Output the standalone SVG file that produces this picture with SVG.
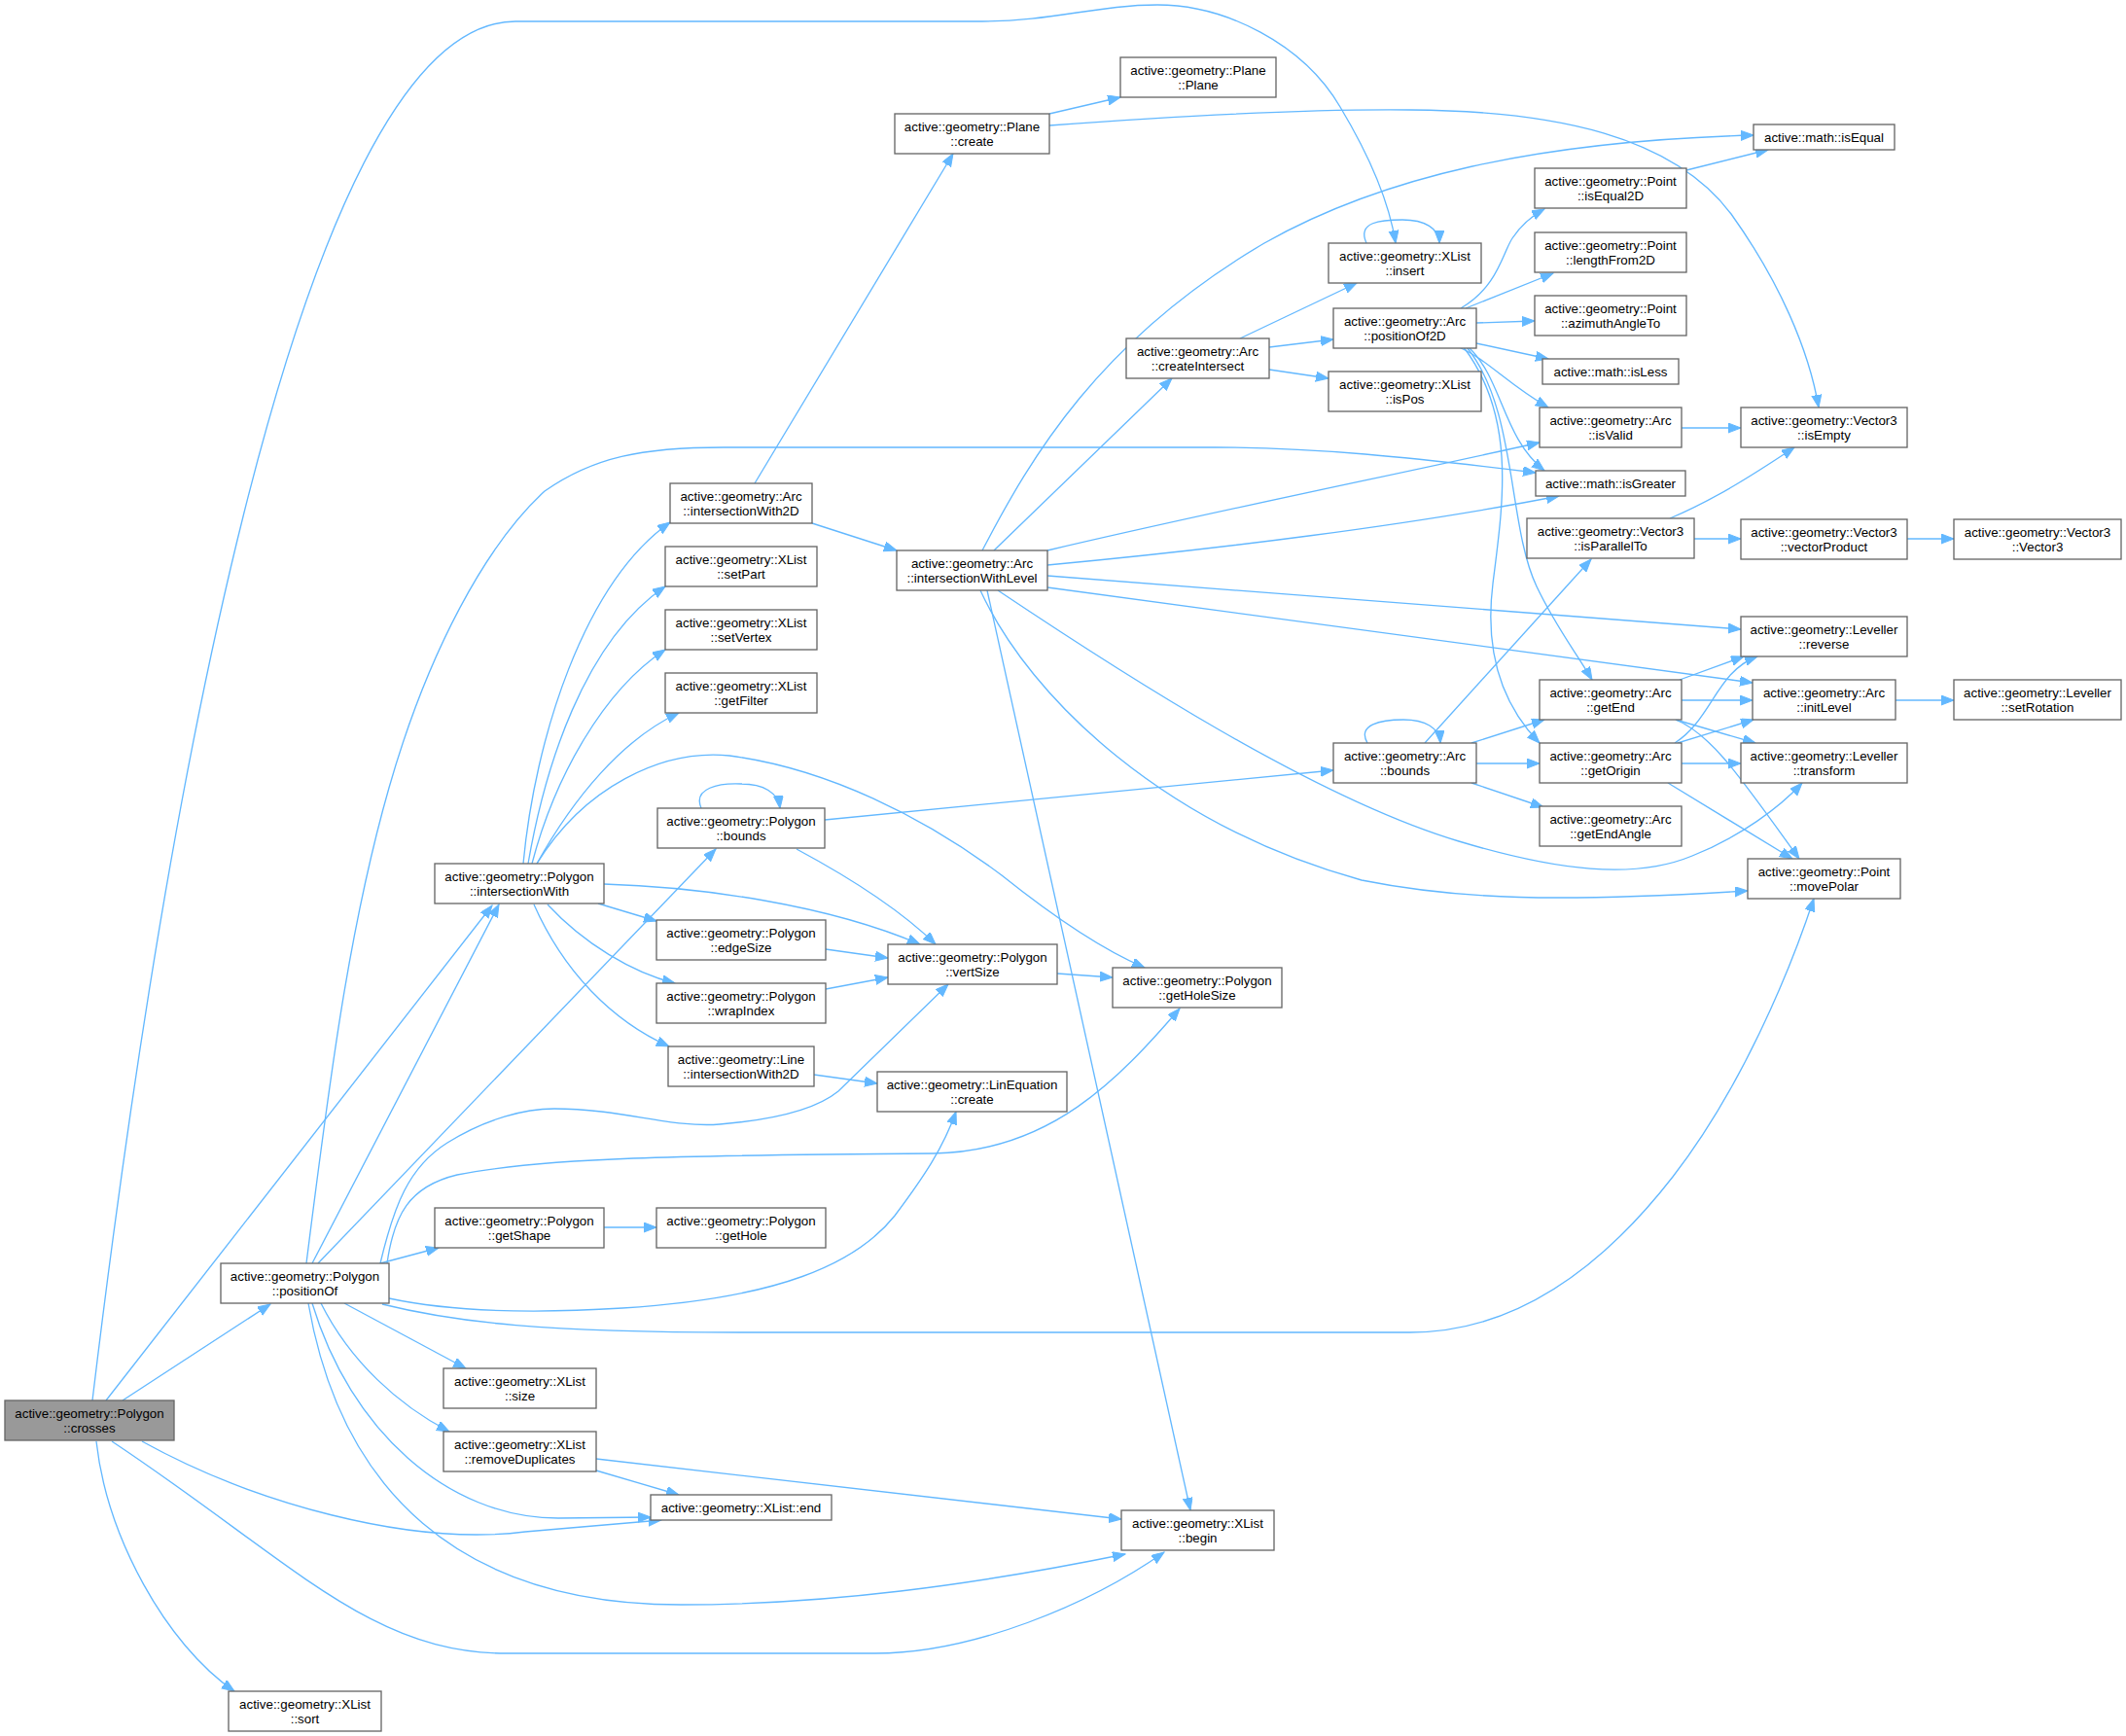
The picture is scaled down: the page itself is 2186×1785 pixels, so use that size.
<svg xmlns="http://www.w3.org/2000/svg" width="2186" height="1785" viewBox="0 0 2186 1785">
<style>
.nd rect{fill:#ffffff;stroke:#666666;stroke-width:1.33}
.root rect{fill:#999999;stroke:#666666;stroke-width:1.33}
text{font-family:"Liberation Sans",Arial,Helvetica,sans-serif;font-size:13.33px;text-anchor:middle;fill:#000000}
.edges path{fill:none;stroke:#63b8ff;stroke-width:1.33;marker-end:url(#ah)}
</style>
<defs>
<marker id="ah" markerUnits="userSpaceOnUse" markerWidth="14" markerHeight="11" refX="13" refY="5" orient="auto">
<path d="M0,0 L13,5 L0,10 z" fill="#63b8ff" stroke="#63b8ff" stroke-width="1"/>
</marker>
</defs>
<rect x="0" y="0" width="2186" height="1785" fill="#ffffff"/>
<g class="edges" id="edges">
<path d="M95,1440 C160,900 300,22 530,22 L1010,22 C1080,22 1130,5 1190,5 C1260,5 1340,45 1378,110 C1405,155 1428,205 1435,250"/>
<path d="M109,1440 L506,931"/>
<path d="M126,1440 L278,1341"/>
<path d="M146,1482 C260,1545 420,1590 540,1575 L680,1563"/>
<path d="M115,1482 C300,1605 380,1700 520,1700 L900,1700 C1000,1700 1120,1650 1197,1596"/>
<path d="M99,1482 C110,1580 170,1690 241,1739"/>
<path d="M354,1340 L479,1407"/>
<path d="M330,1340 C360,1400 410,1445 462,1472"/>
<path d="M321,1340 C360,1470 460,1561 574,1561 L669,1560"/>
<path d="M317,1340 C350,1530 470,1650 700,1650 C850,1650 1000,1630 1157,1598"/>
<path d="M613,1500 L1153,1562"/>
<path d="M613,1512 L698,1537"/>
<path d="M391,1299 L451,1283"/>
<path d="M621,1262 L675,1262"/>
<path d="M391,1299 C405,1240 420,1200 460,1175 C500,1150 540,1140 570,1140 C640,1140 690,1160 740,1156 C800,1151 840,1140 862,1122 L975,1012"/>
<path d="M398,1299 C405,1250 420,1220 470,1208 C560,1190 700,1188 960,1186 C1080,1184 1150,1110 1213,1037"/>
<path d="M400,1335 C470,1350 560,1350 640,1345 C800,1335 880,1300 920,1250 C950,1210 970,1180 983,1143"/>
<path d="M393,1341 C470,1360 560,1370 760,1370 L1450,1370 C1560,1370 1650,1300 1720,1210 C1790,1120 1840,1000 1865,924"/>
<path d="M315,1299 C340,1100 360,950 400,810 C440,670 500,560 560,505 C610,470 660,460 744,460 L1250,460 C1350,460 1450,470 1579,486"/>
<path d="M321,1299 L513,930"/>
<path d="M327,1299 L736,873"/>
<path d="M538,888 C550,760 600,600 689,537"/>
<path d="M543,888 C560,790 600,660 684,603"/>
<path d="M547,888 C570,800 620,710 684,668"/>
<path d="M552,888 C590,820 640,760 698,733"/>
<path d="M552,888 C600,810 680,770 750,777 C850,790 950,840 1030,900 C1080,940 1130,975 1177,995"/>
<path d="M621,909 C720,912 850,930 946,971"/>
<path d="M615,929 L675,947"/>
<path d="M563,930 C600,970 650,1000 694,1011"/>
<path d="M549,930 C580,1000 630,1050 688,1076"/>
<path d="M721,831 C712,810 740,805 762,806 C785,806 800,815 802,831"/>
<path d="M848,843 L1371,792"/>
<path d="M819,873 C860,895 920,930 962,971"/>
<path d="M849,976 L913,985"/>
<path d="M849,1017 L913,1005"/>
<path d="M1087,1001 L1144,1005"/>
<path d="M837,1105 L902,1114"/>
<path d="M776,497 L980,158"/>
<path d="M835,538 L922,566"/>
<path d="M1079,117 L1152,100"/>
<path d="M1079,129 C1200,120 1350,112 1450,113 C1600,114 1720,140 1780,220 C1830,290 1860,360 1870,419"/>
<path d="M1010,566 C1060,470 1130,350 1300,250 C1420,182 1580,145 1803,139"/>
<path d="M1022,566 L1205,389"/>
<path d="M1077,566 C1250,525 1450,485 1583,455"/>
<path d="M1077,581 C1250,565 1450,540 1603,510"/>
<path d="M1077,592 L1790,647"/>
<path d="M1077,604 L1802,702"/>
<path d="M1026,607 C1150,690 1350,820 1500,865 C1600,895 1680,905 1740,880 C1790,860 1830,830 1853,805"/>
<path d="M1008,607 C1060,720 1200,850 1400,905 C1500,925 1600,928 1797,916"/>
<path d="M1015,607 L1224,1553"/>
<path d="M1275,348 L1395,291"/>
<path d="M1305,357 L1371,349"/>
<path d="M1305,380 L1366,389"/>
<path d="M1405,250 C1395,228 1420,226 1442,226 C1465,226 1480,235 1480,250"/>
<path d="M1502,317 C1540,295 1545,260 1555,245 C1565,230 1575,222 1588,215"/>
<path d="M1507,317 L1597,281"/>
<path d="M1518,332 L1578,330"/>
<path d="M1518,353 L1592,369"/>
<path d="M1500,357 C1530,370 1550,395 1592,419"/>
<path d="M1510,357 C1545,390 1545,450 1588,484"/>
<path d="M1508,357 C1560,420 1550,540 1580,603 C1600,645 1620,670 1637,699"/>
<path d="M1505,357 C1560,430 1545,520 1535,600 C1525,680 1550,730 1583,764"/>
<path d="M1734,175 L1818,154"/>
<path d="M1729,440 L1790,440"/>
<path d="M1742,554 L1790,554"/>
<path d="M1717,533 C1760,515 1800,490 1845,460"/>
<path d="M1961,554 L2009,554"/>
<path d="M1406,764 C1395,745 1420,740 1443,740 C1465,740 1480,748 1481,764"/>
<path d="M1465,764 L1636,575"/>
<path d="M1513,764 L1588,740"/>
<path d="M1518,785 L1583,785"/>
<path d="M1513,805 L1587,830"/>
<path d="M1727,699 L1793,675"/>
<path d="M1729,720 L1802,720"/>
<path d="M1723,740 L1805,764"/>
<path d="M1723,740 C1760,755 1790,800 1850,883"/>
<path d="M1722,764 C1760,740 1765,690 1807,675"/>
<path d="M1725,764 L1803,740"/>
<path d="M1729,785 L1790,785"/>
<path d="M1715,805 L1843,883"/>
<path d="M1949,720 L2009,720"/>
</g>
<g id="n_crosses" class="root"><rect x="5" y="1440" width="174" height="41"/><text><tspan x="92" y="1458">active::geometry::Polygon</tspan><tspan x="92" y="1473">::crosses</tspan></text></g>
<g id="n_positionOf" class="nd"><rect x="227" y="1299" width="173" height="41"/><text><tspan x="313.5" y="1317">active::geometry::Polygon</tspan><tspan x="313.5" y="1332">::positionOf</tspan></text></g>
<g id="n_sort" class="nd"><rect x="235" y="1739" width="157" height="41"/><text><tspan x="313.5" y="1757">active::geometry::XList</tspan><tspan x="313.5" y="1772">::sort</tspan></text></g>
<g id="n_size" class="nd"><rect x="456" y="1407" width="157" height="41"/><text><tspan x="534.5" y="1425">active::geometry::XList</tspan><tspan x="534.5" y="1440">::size</tspan></text></g>
<g id="n_removeDuplicates" class="nd"><rect x="456" y="1472" width="157" height="41"/><text><tspan x="534.5" y="1490">active::geometry::XList</tspan><tspan x="534.5" y="1505">::removeDuplicates</tspan></text></g>
<g id="n_end" class="nd"><rect x="669" y="1537" width="186" height="26"/><text><tspan x="762" y="1555">active::geometry::XList::end</tspan></text></g>
<g id="n_intersectionWith" class="nd"><rect x="447" y="888" width="174" height="41"/><text><tspan x="534" y="906">active::geometry::Polygon</tspan><tspan x="534" y="921">::intersectionWith</tspan></text></g>
<g id="n_arcIntersectionWith2D" class="nd"><rect x="689" y="497" width="146" height="41"/><text><tspan x="762" y="515">active::geometry::Arc</tspan><tspan x="762" y="530">::intersectionWith2D</tspan></text></g>
<g id="n_setPart" class="nd"><rect x="684" y="562" width="156" height="41"/><text><tspan x="762" y="580">active::geometry::XList</tspan><tspan x="762" y="595">::setPart</tspan></text></g>
<g id="n_setVertex" class="nd"><rect x="684" y="627" width="156" height="41"/><text><tspan x="762" y="645">active::geometry::XList</tspan><tspan x="762" y="660">::setVertex</tspan></text></g>
<g id="n_getFilter" class="nd"><rect x="684" y="692" width="156" height="41"/><text><tspan x="762" y="710">active::geometry::XList</tspan><tspan x="762" y="725">::getFilter</tspan></text></g>
<g id="n_polygonBounds" class="nd"><rect x="676" y="831" width="172" height="41"/><text><tspan x="762" y="849">active::geometry::Polygon</tspan><tspan x="762" y="864">::bounds</tspan></text></g>
<g id="n_intersectionWithLevel" class="nd"><rect x="922" y="566" width="155" height="41"/><text><tspan x="999.5" y="584">active::geometry::Arc</tspan><tspan x="999.5" y="599">::intersectionWithLevel</tspan></text></g>
<g id="n_edgeSize" class="nd"><rect x="675" y="946" width="174" height="41"/><text><tspan x="762" y="964">active::geometry::Polygon</tspan><tspan x="762" y="979">::edgeSize</tspan></text></g>
<g id="n_wrapIndex" class="nd"><rect x="675" y="1011" width="174" height="41"/><text><tspan x="762" y="1029">active::geometry::Polygon</tspan><tspan x="762" y="1044">::wrapIndex</tspan></text></g>
<g id="n_lineIntersectionWith2D" class="nd"><rect x="687" y="1076" width="150" height="41"/><text><tspan x="762" y="1094">active::geometry::Line</tspan><tspan x="762" y="1109">::intersectionWith2D</tspan></text></g>
<g id="n_vertSize" class="nd"><rect x="913" y="971" width="174" height="41"/><text><tspan x="1000" y="989">active::geometry::Polygon</tspan><tspan x="1000" y="1004">::vertSize</tspan></text></g>
<g id="n_linEquationCreate" class="nd"><rect x="902" y="1102" width="195" height="41"/><text><tspan x="999.5" y="1120">active::geometry::LinEquation</tspan><tspan x="999.5" y="1135">::create</tspan></text></g>
<g id="n_getShape" class="nd"><rect x="447" y="1242" width="174" height="41"/><text><tspan x="534" y="1260">active::geometry::Polygon</tspan><tspan x="534" y="1275">::getShape</tspan></text></g>
<g id="n_getHole" class="nd"><rect x="675" y="1242" width="174" height="41"/><text><tspan x="762" y="1260">active::geometry::Polygon</tspan><tspan x="762" y="1275">::getHole</tspan></text></g>
<g id="n_getHoleSize" class="nd"><rect x="1144" y="995" width="174" height="41"/><text><tspan x="1231" y="1013">active::geometry::Polygon</tspan><tspan x="1231" y="1028">::getHoleSize</tspan></text></g>
<g id="n_begin" class="nd"><rect x="1153" y="1553" width="157" height="41"/><text><tspan x="1231.5" y="1571">active::geometry::XList</tspan><tspan x="1231.5" y="1586">::begin</tspan></text></g>
<g id="n_planeCreate" class="nd"><rect x="920" y="117" width="159" height="41"/><text><tspan x="999.5" y="135">active::geometry::Plane</tspan><tspan x="999.5" y="150">::create</tspan></text></g>
<g id="n_planePlane" class="nd"><rect x="1152" y="59" width="160" height="41"/><text><tspan x="1232" y="77">active::geometry::Plane</tspan><tspan x="1232" y="92">::Plane</tspan></text></g>
<g id="n_isEqual" class="nd"><rect x="1803" y="128" width="145" height="26"/><text><tspan x="1875.5" y="146">active::math::isEqual</tspan></text></g>
<g id="n_insert" class="nd"><rect x="1366" y="250" width="157" height="41"/><text><tspan x="1444.5" y="268">active::geometry::XList</tspan><tspan x="1444.5" y="283">::insert</tspan></text></g>
<g id="n_isEqual2D" class="nd"><rect x="1578" y="173" width="156" height="41"/><text><tspan x="1656" y="191">active::geometry::Point</tspan><tspan x="1656" y="206">::isEqual2D</tspan></text></g>
<g id="n_lengthFrom2D" class="nd"><rect x="1578" y="239" width="156" height="41"/><text><tspan x="1656" y="257">active::geometry::Point</tspan><tspan x="1656" y="272">::lengthFrom2D</tspan></text></g>
<g id="n_azimuthAngleTo" class="nd"><rect x="1578" y="304" width="156" height="41"/><text><tspan x="1656" y="322">active::geometry::Point</tspan><tspan x="1656" y="337">::azimuthAngleTo</tspan></text></g>
<g id="n_isLess" class="nd"><rect x="1586" y="369" width="140" height="26"/><text><tspan x="1656" y="387">active::math::isLess</tspan></text></g>
<g id="n_createIntersect" class="nd"><rect x="1158" y="348" width="147" height="41"/><text><tspan x="1231.5" y="366">active::geometry::Arc</tspan><tspan x="1231.5" y="381">::createIntersect</tspan></text></g>
<g id="n_positionOf2D" class="nd"><rect x="1371" y="317" width="147" height="41"/><text><tspan x="1444.5" y="335">active::geometry::Arc</tspan><tspan x="1444.5" y="350">::positionOf2D</tspan></text></g>
<g id="n_isPos" class="nd"><rect x="1366" y="382" width="157" height="41"/><text><tspan x="1444.5" y="400">active::geometry::XList</tspan><tspan x="1444.5" y="415">::isPos</tspan></text></g>
<g id="n_isValid" class="nd"><rect x="1583" y="419" width="146" height="41"/><text><tspan x="1656" y="437">active::geometry::Arc</tspan><tspan x="1656" y="452">::isValid</tspan></text></g>
<g id="n_isEmpty" class="nd"><rect x="1790" y="419" width="171" height="41"/><text><tspan x="1875.5" y="437">active::geometry::Vector3</tspan><tspan x="1875.5" y="452">::isEmpty</tspan></text></g>
<g id="n_isGreater" class="nd"><rect x="1579" y="484" width="154" height="26"/><text><tspan x="1656" y="502">active::math::isGreater</tspan></text></g>
<g id="n_isParallelTo" class="nd"><rect x="1570" y="533" width="172" height="41"/><text><tspan x="1656" y="551">active::geometry::Vector3</tspan><tspan x="1656" y="566">::isParallelTo</tspan></text></g>
<g id="n_vectorProduct" class="nd"><rect x="1790" y="534" width="171" height="41"/><text><tspan x="1875.5" y="552">active::geometry::Vector3</tspan><tspan x="1875.5" y="567">::vectorProduct</tspan></text></g>
<g id="n_vector3" class="nd"><rect x="2009" y="534" width="172" height="41"/><text><tspan x="2095" y="552">active::geometry::Vector3</tspan><tspan x="2095" y="567">::Vector3</tspan></text></g>
<g id="n_reverse" class="nd"><rect x="1790" y="634" width="171" height="41"/><text><tspan x="1875.5" y="652">active::geometry::Leveller</tspan><tspan x="1875.5" y="667">::reverse</tspan></text></g>
<g id="n_getEnd" class="nd"><rect x="1583" y="699" width="146" height="41"/><text><tspan x="1656" y="717">active::geometry::Arc</tspan><tspan x="1656" y="732">::getEnd</tspan></text></g>
<g id="n_initLevel" class="nd"><rect x="1802" y="699" width="147" height="41"/><text><tspan x="1875.5" y="717">active::geometry::Arc</tspan><tspan x="1875.5" y="732">::initLevel</tspan></text></g>
<g id="n_setRotation" class="nd"><rect x="2009" y="699" width="172" height="41"/><text><tspan x="2095" y="717">active::geometry::Leveller</tspan><tspan x="2095" y="732">::setRotation</tspan></text></g>
<g id="n_arcBounds" class="nd"><rect x="1371" y="764" width="147" height="41"/><text><tspan x="1444.5" y="782">active::geometry::Arc</tspan><tspan x="1444.5" y="797">::bounds</tspan></text></g>
<g id="n_getOrigin" class="nd"><rect x="1583" y="764" width="146" height="41"/><text><tspan x="1656" y="782">active::geometry::Arc</tspan><tspan x="1656" y="797">::getOrigin</tspan></text></g>
<g id="n_transform" class="nd"><rect x="1790" y="764" width="171" height="41"/><text><tspan x="1875.5" y="782">active::geometry::Leveller</tspan><tspan x="1875.5" y="797">::transform</tspan></text></g>
<g id="n_getEndAngle" class="nd"><rect x="1583" y="829" width="146" height="41"/><text><tspan x="1656" y="847">active::geometry::Arc</tspan><tspan x="1656" y="862">::getEndAngle</tspan></text></g>
<g id="n_movePolar" class="nd"><rect x="1797" y="883" width="157" height="41"/><text><tspan x="1875.5" y="901">active::geometry::Point</tspan><tspan x="1875.5" y="916">::movePolar</tspan></text></g>
</svg>
